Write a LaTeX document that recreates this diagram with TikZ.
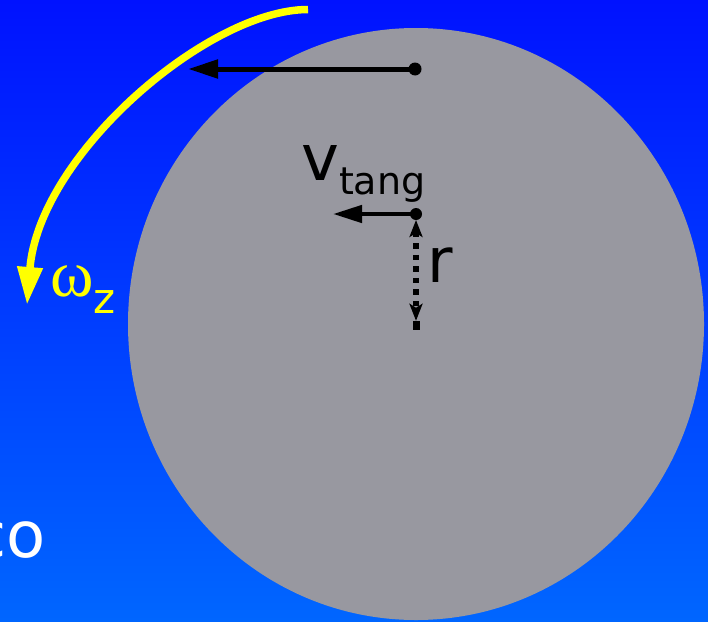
\documentclass[tikz,border=0pt]{standalone}
\usepackage{fontspec}
\setmainfont{DejaVu Sans}
\newfontfamily\greekfont{Liberation Serif}
\usetikzlibrary{arrows.meta}
\definecolor{bgtop}{RGB}{0,18,255}
\definecolor{bgbot}{RGB}{0,102,255}
\definecolor{disk}{RGB}{152,152,160}
\definecolor{omegayellow}{RGB}{255,255,0}
\tikzset{
  dotnode/.style={circle,fill=black,inner sep=0pt,minimum size=13pt},
  vecarrow/.style={line width=5pt,-{Triangle[length=30pt,width=18pt]}},
  radarrow/.style={line width=5.5pt,dash pattern=on 5.5pt off 6pt,
     {Stealth[length=17pt,width=13pt,inset=4pt]}-{Stealth[length=17pt,width=13pt,inset=4pt]}},
  omegaarrow/.style={omegayellow,line width=7.5pt,-{Triangle[length=38pt,width=24pt]}},
  biglabel/.style={inner sep=0pt,font=\fontsize{64}{64}\selectfont},
}
\begin{document}
\begin{tikzpicture}[x=1pt,y=-1pt]
\useasboundingbox (0,0) rectangle (708,621);
\clip (0,0) rectangle (708,621);
\shade[top color=bgtop,bottom color=bgbot] (0,0) rectangle (708,621);
\fill[disk] (416,324) ellipse [x radius=288pt, y radius=296pt];
% top velocity arrow
\node[dotnode] (d1) at (415,69) {};
\coordinate (t1) at (188,69);
\draw[vecarrow] (d1.center) -- (t1);
% middle velocity arrow
\node[dotnode,minimum size=12pt] (d2) at (416,214) {};
\coordinate (t2) at (333,214);
\draw[vecarrow,line width=4.5pt,-{Triangle[length=29pt,width=17pt]}] (d2.center) -- (t2);
% radius
\node[rectangle,fill=black,inner sep=0pt,minimum width=7pt,minimum height=9pt] (c0) at (416,325.5) {};
\coordinate (r1) at (416,220);
\draw[radarrow] (r1) -- (c0.north);
% labels
\node[biglabel,anchor=base west] (vt) at (301,180) {v\raisebox{-14pt}{\fontsize{38}{38}\selectfont tang}};
\node[biglabel,anchor=base west,font=\fontsize{62}{62}\selectfont] (rl) at (427,282) {r};
% omega arrow
\coordinate (ys) at (308,9.5);
\coordinate (ye) at (27,305);
\draw[omegaarrow] (ys) .. controls (208,9.5) and (39,155) .. (ye);
\node[inner sep=0pt,anchor=base west,text=omegayellow] (om) at (50,296)
  {{\greekfont\fontsize{66}{66}\selectfont ω}\raisebox{-17pt}{\fontsize{42}{42}\selectfont z}};
% partial text
\node[biglabel,anchor=base east,text=white] (co) at (46,557) {co};
\end{tikzpicture}
\end{document}
